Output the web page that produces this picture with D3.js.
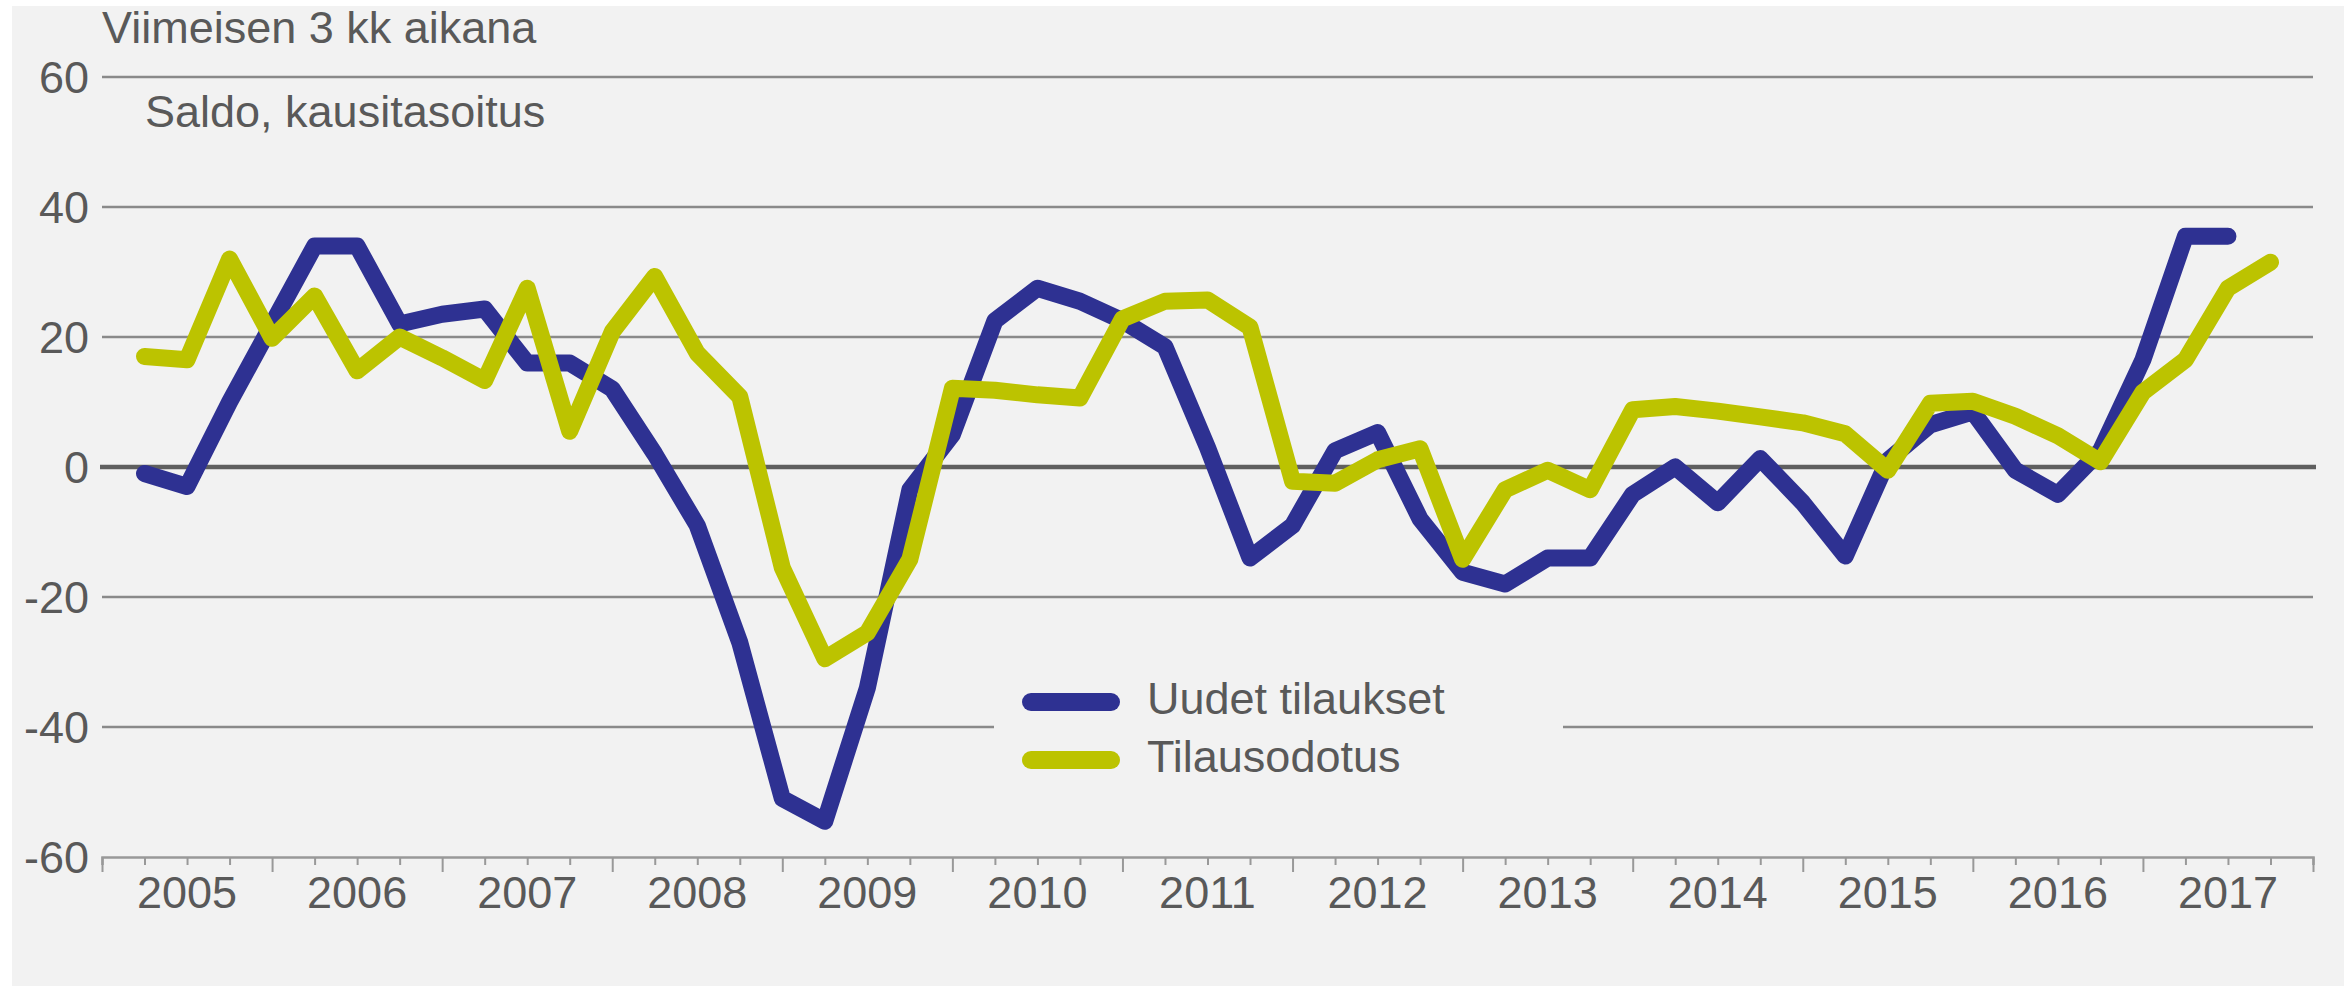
<!DOCTYPE html>
<html>
<head>
<meta charset="utf-8">
<script src="https://cdn.jsdelivr.net/npm/d3@7"></script>
<style>
  html, body { margin: 0; padding: 0; background: #ffffff; }
  svg { display: block; }
  text { font-family: "Liberation Sans", Arial, sans-serif; fill: #595959; }
</style>
</head>
<body>
<svg id="chart" width="2348" height="986"></svg>
<script>
// ---- Data (quarterly, starting 2005 Q1) ----
const years = ["2005","2006","2007","2008","2009","2010","2011","2012","2013","2014","2015","2016","2017"];
const yTicks = [-60, -40, -20, 0, 20, 40, 60];
const seriesNames = ["Uudet tilaukset", "Tilausodotus"];

const uudetTilaukset = [
  -1, -3, 10, 22,
  34, 34, 22, 23.5,
  24.3, 16, 16, 12,
  2, -9, -27, -51,
  -54.5, -34, -3.5, 5,
  22.5, 27.5, 25.5, 22.5,
  18.5, 3, -14, -9,
  2.5, 5.3, -8, -16.2,
  -18, -14, -14, -4.2,
  0, -5.5, 1.3, -5.5,
  -13.7, 1, 6.5, 8.5,
  -0.5, -4.2, 2.5, 16.5,
  35.5, 35.5
];

const tilausodotus = [
  17, 16.5, 32, 19.8,
  26.3, 14.8, 20, 16.8,
  13.3, 27.5, 5.5, 20.8,
  29.3, 17.5, 10.8, -15.5,
  -29.5, -25.5, -14.2, 12.1,
  11.8, 11.1, 10.6, 22.8,
  25.5, 25.7, 21.5, -2.2,
  -2.5, 1.1, 2.8, -14.2,
  -3.5, -0.5, -3.5, 8.8,
  9.3, 8.6, 7.7, 6.8,
  5.1, -0.5, 9.8, 10.1,
  7.8, 4.8, 0.8, 11.5,
  16.5, 27.5, 31.5
];

const colors = ["#2E3192", "#BCC300"];

// ---- Layout ----
(function () {
const svg = d3.select("#chart");
const mLeft = 102, mRight = 2313, mTop = 77, mBottom = 857;
const nQuarters = years.length * 4;

svg.append("rect").attr("x", 12).attr("y", 6).attr("width", 2332).attr("height", 980).attr("fill", "#F2F2F2");

const x = d3.scaleLinear().domain([0, nQuarters]).range([mLeft, mRight]);
const y = d3.scaleLinear().domain([-60, 60]).range([mBottom, mTop]);

// gridlines
const grid = svg.append("g");
yTicks.filter(v => v !== 0 && v !== -60).forEach(v => {
  grid.append("line")
    .attr("x1", mLeft).attr("x2", mRight)
    .attr("y1", y(v)).attr("y2", y(v))
    .attr("stroke", "#8a8a8a").attr("stroke-width", 2.5);
});

// y tick labels
svg.append("g").selectAll("text").data(yTicks).join("text")
  .attr("x", 89).attr("y", d => y(d)).attr("dy", "0.35em")
  .attr("text-anchor", "end").attr("font-size", 45)
  .text(d => d);

// x axis with quarter ticks
const xAxis = d3.axisBottom(x)
  .tickValues(d3.range(0, nQuarters + 1))
  .tickSize(8)
  .tickFormat("");
const gx = svg.append("g").attr("transform", `translate(0,${mBottom})`).call(xAxis);
gx.select(".domain").attr("stroke", "#999999").attr("stroke-width", 2.5);
gx.selectAll(".tick line").attr("stroke", "#999999").attr("stroke-width", 2)
  .attr("y2", d => (d % 4 === 0 ? 15 : 8));

// year labels
svg.append("g").selectAll("text").data(years).join("text")
  .attr("x", (d, i) => x(i * 4 + 2))
  .attr("y", 908)
  .attr("text-anchor", "middle").attr("font-size", 45)
  .text(d => d);

// zero line
svg.append("line")
  .attr("x1", mLeft - 2).attr("x2", mRight + 3)
  .attr("y1", y(0)).attr("y2", y(0))
  .attr("stroke", "#5f5f5f").attr("stroke-width", 4.5);

// legend background (masks gridline)
svg.append("rect").attr("x", 994).attr("y", 668).attr("width", 569).attr("height", 122).attr("fill", "#F2F2F2");

// lines
const line = d3.line().x((d, i) => x(i + 1)).y(d => y(d));
[uudetTilaukset, tilausodotus].forEach((s, k) => {
  svg.append("path").datum(s)
    .attr("d", line)
    .attr("fill", "none")
    .attr("stroke", colors[k])
    .attr("stroke-width", 17)
    .attr("stroke-linejoin", "round")
    .attr("stroke-linecap", "round");
});

// legend
seriesNames.forEach((name, k) => {
  const ly = 702 + k * 58;
  svg.append("line").attr("x1", 1031).attr("x2", 1111).attr("y1", ly).attr("y2", ly)
    .attr("stroke", colors[k]).attr("stroke-width", 18).attr("stroke-linecap", "round");
  svg.append("text").attr("x", 1147).attr("y", ly + 12).attr("font-size", 45).text(name);
});

// titles
svg.append("text").attr("x", 102).attr("y", 43).attr("font-size", 45).text("Viimeisen 3 kk aikana");
svg.append("text").attr("x", 145).attr("y", 127).attr("font-size", 45).text("Saldo, kausitasoitus");
})();
</script>
</body>
</html>
